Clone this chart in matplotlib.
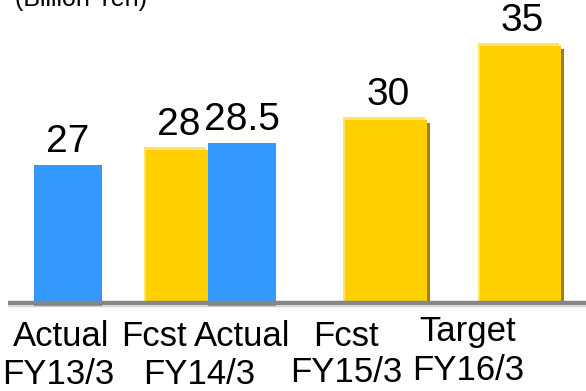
import matplotlib.pyplot as plt
from matplotlib.patches import Rectangle

plt.rcParams['font.family'] = ['Liberation Sans', 'DejaVu Sans']

# bar values (billion yen)
values = [27, 28, 28.5, 30, 35]
value_labels = ['27', '28', '28.5', '30', '35']
kinds = ['actual', 'fcst', 'actual', 'fcst', 'target']

# category labels: (top line, bottom line)
top_labels = ['Actual', 'Fcst', 'Actual', 'Fcst', 'Target']
years = ['FY13/3', 'FY14/3', 'FY15/3', 'FY16/3']

# layout (pixel-like x units)
lefts = [34, 146, 208, 345, 480]
widths = [68, 62, 68, 82, 81]
top_x = [61, 154, 242, 346, 468]
top_y = [337, 337, 337, 337, 332]
year_x = [58, 199, 346, 468]
year_y = [375, 375, 373, 370]

blue = '#3399FF'
yellow = '#FFCF00'
light = '#FFE36B'
dark = '#9E8200'

W, H = 586, 391
fig = plt.figure(figsize=(W / 100, H / 100), dpi=100)
base_px = 301
ax = fig.add_axes([0, (H - base_px) / H, 1, base_px / H])
ymin, scale = 17.8, 14.8
ax.set_xlim(0, W)
ax.set_ylim(ymin, ymin + base_px / scale)
ax.axis('off')

dy = 3 / scale
for v, lab, k, l, w in zip(values, value_labels, kinds, lefts, widths):
    if k == 'actual':
        ax.add_patch(Rectangle((l, ymin - 6 / scale), w, v - ymin + 6 / scale,
                               color=blue, lw=0, zorder=2, clip_on=False))
        ax.text(l + w / 2, v + 0.3, lab, ha='center', va='bottom', fontsize=28, zorder=5)
    else:
        ax.add_patch(Rectangle((l + 3, ymin - 2 / scale), w, v - ymin - dy + 2 / scale,
                               color=dark, lw=0, zorder=1, clip_on=False))
        ax.add_patch(Rectangle((l - 2, ymin), w, v - ymin + dy, color=light, lw=0, zorder=1.5))
        ax.add_patch(Rectangle((l, ymin), w, v - ymin, color=yellow, lw=0, zorder=2))
        ax.text(l + w / 2 + 2, v + dy + 0.3, lab, ha='center', va='bottom', fontsize=28, zorder=5)

# baseline
ax.plot([8, W], [ymin - 1.5 / scale] * 2, color='#868686', lw=3.2,
        solid_capstyle='butt', zorder=4, clip_on=False)
ax.plot([8, W], [ymin - 4.5 / scale] * 2, color='#d0d0d0', lw=1,
        solid_capstyle='butt', zorder=3, clip_on=False)

for t, x, y in zip(top_labels, top_x, top_y):
    fig.text(x / W, 1 - y / H, t, ha='center', va='center', fontsize=25)
for t, x, y in zip(years, year_x, year_y):
    fig.text(x / W, 1 - y / H, t, ha='center', va='center', fontsize=25)

fig.text(15 / W, 1 - 6 / H, '(Billion Yen)', ha='left', va='baseline', fontsize=18)

fig.savefig('out.png', dpi=100)
